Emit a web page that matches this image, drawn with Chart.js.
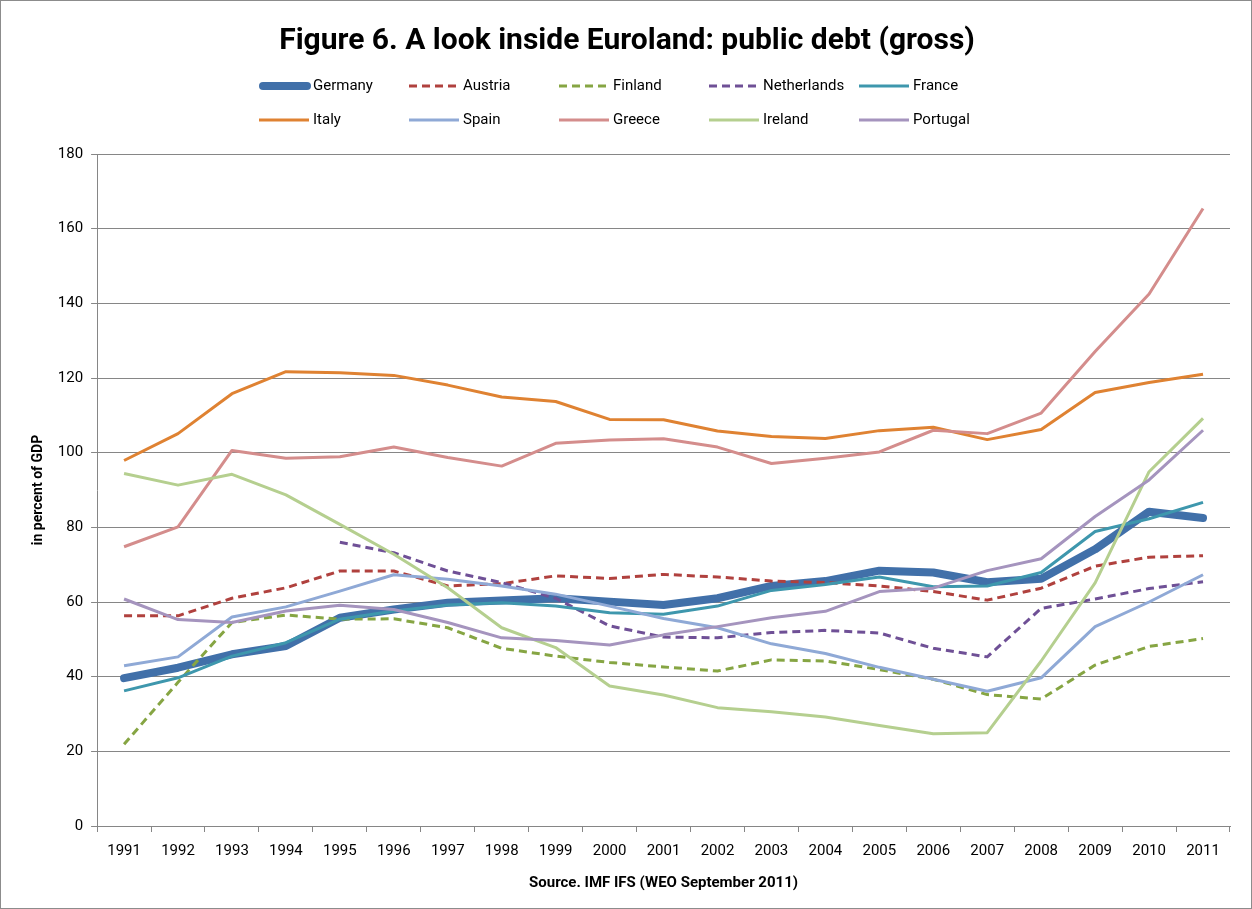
<!DOCTYPE html>
<html>
<head>
<meta charset="utf-8">
<script src="https://cdn.jsdelivr.net/npm/chart.js@4.4.1/dist/chart.umd.min.js"></script>
<style>
  html, body { margin: 0; padding: 0; background: #fff; }
  #frame { width: 1250px; height: 907px; border: 1px solid #8c8c8c; position: relative; }
  canvas { display: block; }
</style>
</head>
<body>
<div id="frame"><canvas id="debtChart" width="1250" height="907"></canvas></div>
<script>
const years = ["1991", "1992", "1993", "1994", "1995", "1996", "1997", "1998", "1999", "2000", "2001",
  "2002", "2003", "2004", "2005", "2006", "2007", "2008", "2009", "2010", "2011"];
const yTicks = [0, 20, 40, 60, 80, 100, 120, 140, 160, 180];

const germany = [39.6, 42.4, 46.0, 48.2, 55.8, 58.0, 59.8, 60.4, 61.0, 60.1, 59.2, 61.0, 64.3, 65.6, 68.4, 67.9, 65.3, 66.2, 74.1, 84.2, 82.5];
const austria = [56.3, 56.3, 61.0, 63.8, 68.3, 68.3, 64.3, 64.9, 67.0, 66.3, 67.4, 66.7, 65.6, 65.2, 64.3, 62.8, 60.5, 63.7, 69.6, 72.0, 72.4];
const finland = [21.9, 38.5, 54.5, 56.5, 55.4, 55.5, 53.1, 47.6, 45.5, 43.8, 42.6, 41.5, 44.5, 44.2, 41.9, 39.3, 35.2, 34.0, 43.1, 48.1, 50.2];
const netherlands = [null, null, null, null, 76.0, 73.2, 68.3, 65.2, 61.0, 53.6, 50.6, 50.4, 51.8, 52.4, 51.7, 47.6, 45.3, 58.3, 60.8, 63.6, 65.4];
const france = [36.2, 39.7, 45.5, 49.1, 55.4, 57.6, 59.2, 59.8, 58.9, 57.1, 56.7, 58.9, 63.1, 64.7, 66.7, 64.1, 64.3, 67.9, 78.9, 82.3, 86.7];
const italy = [97.9, 105.1, 115.8, 121.7, 121.4, 120.7, 118.1, 114.9, 113.7, 108.9, 108.8, 105.8, 104.3, 103.8, 105.9, 106.8, 103.5, 106.2, 116.1, 118.8, 121.0];
const spain = [42.9, 45.3, 56.0, 58.7, 62.9, 67.3, 66.1, 64.3, 62.1, 58.9, 55.6, 53.1, 48.8, 46.2, 42.5, 39.3, 36.1, 39.7, 53.4, 60.0, 67.3];
const greece = [74.8, 80.1, 100.6, 98.5, 98.9, 101.5, 98.7, 96.4, 102.5, 103.4, 103.7, 101.5, 97.1, 98.5, 100.2, 106.0, 105.1, 110.6, 127.1, 142.5, 165.4];
const ireland = [94.4, 91.3, 94.2, 88.7, 80.8, 72.8, 63.8, 53.1, 47.8, 37.5, 35.1, 31.7, 30.6, 29.2, 26.9, 24.7, 25.0, 44.2, 65.1, 94.9, 109.2];
const portugal = [60.8, 55.3, 54.5, 57.6, 59.1, 58.0, 54.5, 50.4, 49.7, 48.5, 51.2, 53.4, 55.8, 57.5, 62.8, 63.7, 68.4, 71.6, 82.9, 92.7, 106.0];

const seriesNames = ["Germany", "Austria", "Finland", "Netherlands", "France", "Italy", "Spain", "Greece", "Ireland", "Portugal"];
const seriesValues = [germany, austria, finland, netherlands, france, italy, spain, greece, ireland, portugal];
const seriesColors = ["#4170a9", "#b0413e", "#86a543", "#6f5096", "#3e97ad", "#df8232", "#8fa9d6", "#d48d8c", "#b5cf8f", "#a594be"];
const seriesWidths = [8, 3, 3, 3, 3, 3, 3, 3, 3, 3];
const seriesDashed = [false, true, true, true, false, false, false, false, false, false];

const FONT = "Roboto, 'Open Sans', sans-serif";
const legendCols = [258, 408, 558, 708, 858];
const legendRows = [85, 119];

const datasets = seriesNames.map((name, i) => ({
  label: name,
  data: seriesValues[i],
  borderColor: seriesColors[i],
  backgroundColor: seriesColors[i],
  borderWidth: seriesWidths[i],
  borderDash: seriesDashed[i] ? [8, 5] : [],
  borderCapStyle: i === 0 ? "round" : "butt",
  borderJoinStyle: "round",
  pointRadius: 0,
  pointHoverRadius: 0,
  tension: 0,
  spanGaps: false,
  fill: false,
  order: seriesNames.length - i,
}));

// title and the two-row legend, drawn in fixed columns like the original
const headerPlugin = {
  id: "header",
  afterDraw(chart) {
    const ctx = chart.ctx;
    ctx.save();
    ctx.fillStyle = "#000";
    ctx.textAlign = "center";
    ctx.textBaseline = "middle";
    ctx.font = `bold 30px ${FONT}`;
    ctx.fillText("Figure 6. A look inside Euroland: public debt (gross)", 626, 40);

    ctx.font = `15px ${FONT}`;
    ctx.textAlign = "left";
    chart.data.datasets.forEach((ds, i) => {
      const x = legendCols[i % 5];
      const y = legendRows[Math.floor(i / 5)];
      ctx.strokeStyle = ds.borderColor;
      ctx.lineWidth = ds.borderWidth;
      ctx.lineCap = ds.borderCapStyle;
      ctx.setLineDash(ds.borderDash);
      ctx.beginPath();
      ctx.moveTo(x + (ds.borderWidth > 4 ? 4 : 0), y);
      ctx.lineTo(x + (ds.borderWidth > 4 ? 48 : 50), y);
      ctx.stroke();
      ctx.setLineDash([]);
      ctx.fillStyle = "#000";
      ctx.fillText(ds.label, x + 54, y);
    });
    ctx.restore();
  },
};

new Chart(document.getElementById("debtChart"), {
  type: "line",
  data: { labels: years, datasets },
  options: {
    responsive: false,
    animation: false,
    layout: { padding: { top: 153, left: 29, right: 21, bottom: 16 } },
    plugins: {
      legend: { display: false },
      title: { display: false },
      tooltip: { enabled: false },
    },
    scales: {
      x: {
        offset: true,
        grid: { display: true, offset: true, drawOnChartArea: false, color: "#868686", tickLength: 6 },
        border: { color: "#868686" },
        ticks: { color: "#000", font: { family: FONT, size: 15 }, maxRotation: 0, autoSkip: false, padding: 10 },
        title: {
          display: true,
          text: "Source. IMF IFS (WEO September 2011)",
          color: "#000",
          font: { family: FONT, size: 15, weight: "bold" },
          padding: { top: 4, bottom: 0 },
        },
      },
      y: {
        min: 0,
        max: 180,
        afterBuildTicks(scale) {
          scale.ticks = yTicks.map((v) => ({ value: v }));
        },
        grid: { color: "#868686", tickLength: 6 },
        border: { color: "#868686" },
        ticks: { color: "#000", font: { family: FONT, size: 15 }, padding: 8 },
        title: {
          display: true,
          text: "in percent of GDP",
          color: "#000",
          font: { family: FONT, size: 14, weight: "bold" },
          padding: { top: 0, bottom: 3 },
        },
      },
    },
  },
  plugins: [headerPlugin],
});
</script>
</body>
</html>
